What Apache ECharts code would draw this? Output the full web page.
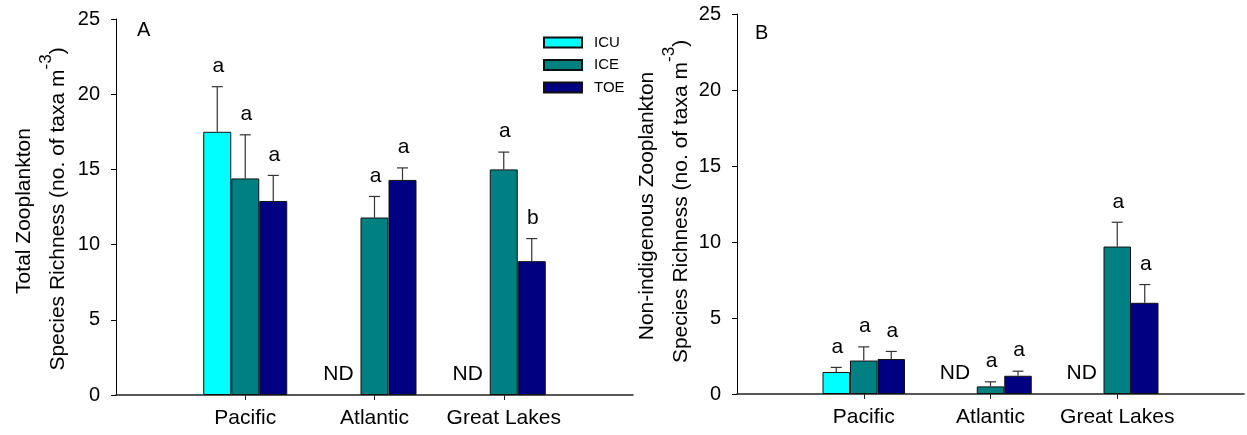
<!DOCTYPE html>
<html>
<head>
<meta charset="utf-8">
<script src="https://cdn.jsdelivr.net/npm/echarts@6/dist/echarts.min.js"></script>
<style>
  html, body { margin: 0; padding: 0; background: #fff; }
  #chart { width: 1247px; height: 435px; }
</style>
</head>
<body>
<div id="chart"></div>
<script>
// Sampling regions and treatments
const categories = ['Pacific', 'Atlantic', 'Great Lakes'];
const treatments = ['ICU', 'ICE', 'TOE'];
const yTicks = [0, 5, 10, 15, 20, 25];

// Panel A: total zooplankton species richness (mean, SE)
const totalICU = [17.5, null, null];
const totalICUErr = [3.0, null, null];
const totalICE = [14.4, 11.8, 15.0];
const totalICEErr = [2.9, 1.4, 1.15];
const totalTOE = [12.9, 14.3, 8.9];
const totalTOEErr = [1.7, 0.8, 1.5];
const totalLetters = [['a', 'a', 'a'], ['ND', 'a', 'a'], ['ND', 'a', 'b']];

// Panel B: non-indigenous zooplankton species richness (mean, SE)
const nisICU = [1.45, null, null];
const nisICUErr = [0.3, null, null];
const nisICE = [2.2, 0.5, 9.7];
const nisICEErr = [0.9, 0.3, 1.6];
const nisTOE = [2.3, 1.2, 6.0];
const nisTOEErr = [0.5, 0.3, 1.2];
const nisLetters = [['a', 'a', 'a'], ['ND', 'a', 'a'], ['ND', 'a', 'a']];

const FONT = '"Liberation Sans", Arial, Helvetica, sans-serif';
const COLORS = ['#00FFFF', '#008080', '#000080'];
const BAR_W = [28, 27.5];

// category axis padded with empty slots at both ends
const axisCats = ['', ...categories, ''];
const pad = arr => [null, ...arr, null];

function buildMarks(vals, errs, letters) {
  const rows = [], texts = [];
  for (let c = 0; c < categories.length; c++) {
    for (let s = 0; s < 3; s++) {
      const v = vals[s][c];
      if (v == null) {
        rows.push([c + 1, s, 0, 0, 1]);
      } else {
        rows.push([c + 1, s, v, errs[s][c], 0]);
      }
      texts.push(letters[c][s]);
    }
  }
  return { rows, texts };
}

const marksA = buildMarks([totalICU, totalICE, totalTOE], [totalICUErr, totalICEErr, totalTOEErr], totalLetters);
const marksB = buildMarks([nisICU, nisICE, nisTOE], [nisICUErr, nisICEErr, nisTOEErr], nisLetters);

// upper SE whisker with cap, plus the significance letter (or ND) above it
function errorRenderer(marks, barW) {
  return function (params, api) {
    const cat = api.value(0), slot = api.value(1), v = api.value(2), e = api.value(3), nd = api.value(4);
    const base = api.coord([cat, 0]);
    const x = base[0] + (slot - 1) * barW;
    const txt = marks.texts[params.dataIndex];
    if (nd) {
      return {
        type: 'text',
        style: { text: txt, x: x - 8, y: base[1] - 10, align: 'center', verticalAlign: 'bottom', font: '21px ' + FONT, fill: '#000' }
      };
    }
    const yTop = api.coord([cat, v])[1];
    const yErr = api.coord([cat, v + e])[1];
    const cap = 5.5;
    return {
      type: 'group',
      children: [
        { type: 'line', shape: { x1: x, y1: yTop, x2: x, y2: yErr }, style: { stroke: '#333', lineWidth: 1.2 } },
        { type: 'line', shape: { x1: x - cap, y1: yErr, x2: x + cap, y2: yErr }, style: { stroke: '#333', lineWidth: 1.2 } },
        { type: 'text', style: { text: txt, x: x + 1, y: yErr - 10, align: 'center', verticalAlign: 'bottom', font: '21px ' + FONT, fill: '#000' } }
      ]
    };
  };
}

function xAxisFor(gridIndex) {
  return {
    type: 'category', gridIndex, data: axisCats, boundaryGap: false,
    axisLine: { show: true, lineStyle: { color: '#222', width: 1.5 } },
    axisTick: { show: true, length: 5, interval: (i) => i > 0 && i < axisCats.length - 1, lineStyle: { color: '#222' } },
    axisLabel: { show: true, interval: 0, color: '#000', fontSize: 21, fontFamily: FONT, margin: 13 },
    splitLine: { show: false }
  };
}

function yAxisFor(gridIndex) {
  return {
    type: 'value', gridIndex, min: yTicks[0], max: yTicks[yTicks.length - 1], interval: yTicks[1] - yTicks[0],
    axisLine: { show: true, lineStyle: { color: '#000', width: 1 } },
    axisTick: { show: true, length: 5, lineStyle: { color: '#000' } },
    axisLabel: { color: '#000', fontSize: 20, fontFamily: FONT, margin: 16 },
    splitLine: { show: false }
  };
}

function barSeries(name, data, idx, panel) {
  return {
    type: 'bar', name, xAxisIndex: panel, yAxisIndex: panel,
    data: pad(data), barWidth: BAR_W[panel], barGap: '0%',
    itemStyle: { color: COLORS[idx], borderColor: '#111', borderWidth: 1 },
    emphasis: { disabled: true }, animation: false
  };
}

const titleFont = '21px ' + FONT;
const supRich = {
  n: { font: titleFont, fill: '#000', lineHeight: 40 },
  sup: { font: '17px ' + FONT, fill: '#000', lineHeight: 17, verticalAlign: 'top' }
};

function yTitle(x1, y1, line1, x2, y2) {
  return [
    { type: 'text', x: x1, y: y1, rotation: Math.PI / 2, silent: true,
      style: { text: line1, font: titleFont, fill: '#000', align: 'center', verticalAlign: 'middle' } },
    { type: 'text', x: x2, y: y2, rotation: Math.PI / 2, silent: true,
      style: { text: '{n|Species Richness (no. of taxa m}{sup|-3}{n|)}', rich: supRich, align: 'center', verticalAlign: 'middle' } }
  ];
}

const option = {
  backgroundColor: '#fff',
  animation: false,
  textStyle: { fontFamily: FONT },
  grid: [
    { left: 116, top: 19, width: 517, height: 376 },
    { left: 737, top: 14, width: 512, height: 380 }
  ],
  xAxis: [xAxisFor(0), xAxisFor(1)],
  yAxis: [yAxisFor(0), yAxisFor(1)],
  legend: {
    data: treatments, orient: 'vertical', left: 538, top: 30,
    itemWidth: 38, itemHeight: 10, itemGap: 7.5, selectedMode: false,
    icon: 'rect',
    textStyle: { color: '#000', fontSize: 15, fontFamily: FONT, padding: [0, 0, 0, 7] }
  },
  graphic: [
    { type: 'text', x: 137, y: 30.5, silent: true, style: { text: 'A', font: '20px ' + FONT, fill: '#000', align: 'left', verticalAlign: 'middle' } },
    { type: 'text', x: 755, y: 33.5, silent: true, style: { text: 'B', font: '20px ' + FONT, fill: '#000', align: 'left', verticalAlign: 'middle' } },
    ...yTitle(24, 211, 'Total Zooplankton', 58, 209),
    ...yTitle(647, 206, 'Non-indigenous Zooplankton', 681, 201.5)
  ],
  series: [
    barSeries('ICU', totalICU, 0, 0),
    barSeries('ICE', totalICE, 1, 0),
    barSeries('TOE', totalTOE, 2, 0),
    barSeries('ICU', nisICU, 0, 1),
    barSeries('ICE', nisICE, 1, 1),
    barSeries('TOE', nisTOE, 2, 1),
    { type: 'custom', xAxisIndex: 0, yAxisIndex: 0, data: marksA.rows, encode: { x: 0, y: 2 },
      renderItem: errorRenderer(marksA, BAR_W[0]), z: 5, silent: true, clip: false },
    { type: 'custom', xAxisIndex: 1, yAxisIndex: 1, data: marksB.rows, encode: { x: 0, y: 2 },
      renderItem: errorRenderer(marksB, BAR_W[1]), z: 5, silent: true, clip: false }
  ]
};

const chart = echarts.init(document.getElementById('chart'), null, { renderer: 'canvas' });
chart.setOption(option);
</script>
</body>
</html>
